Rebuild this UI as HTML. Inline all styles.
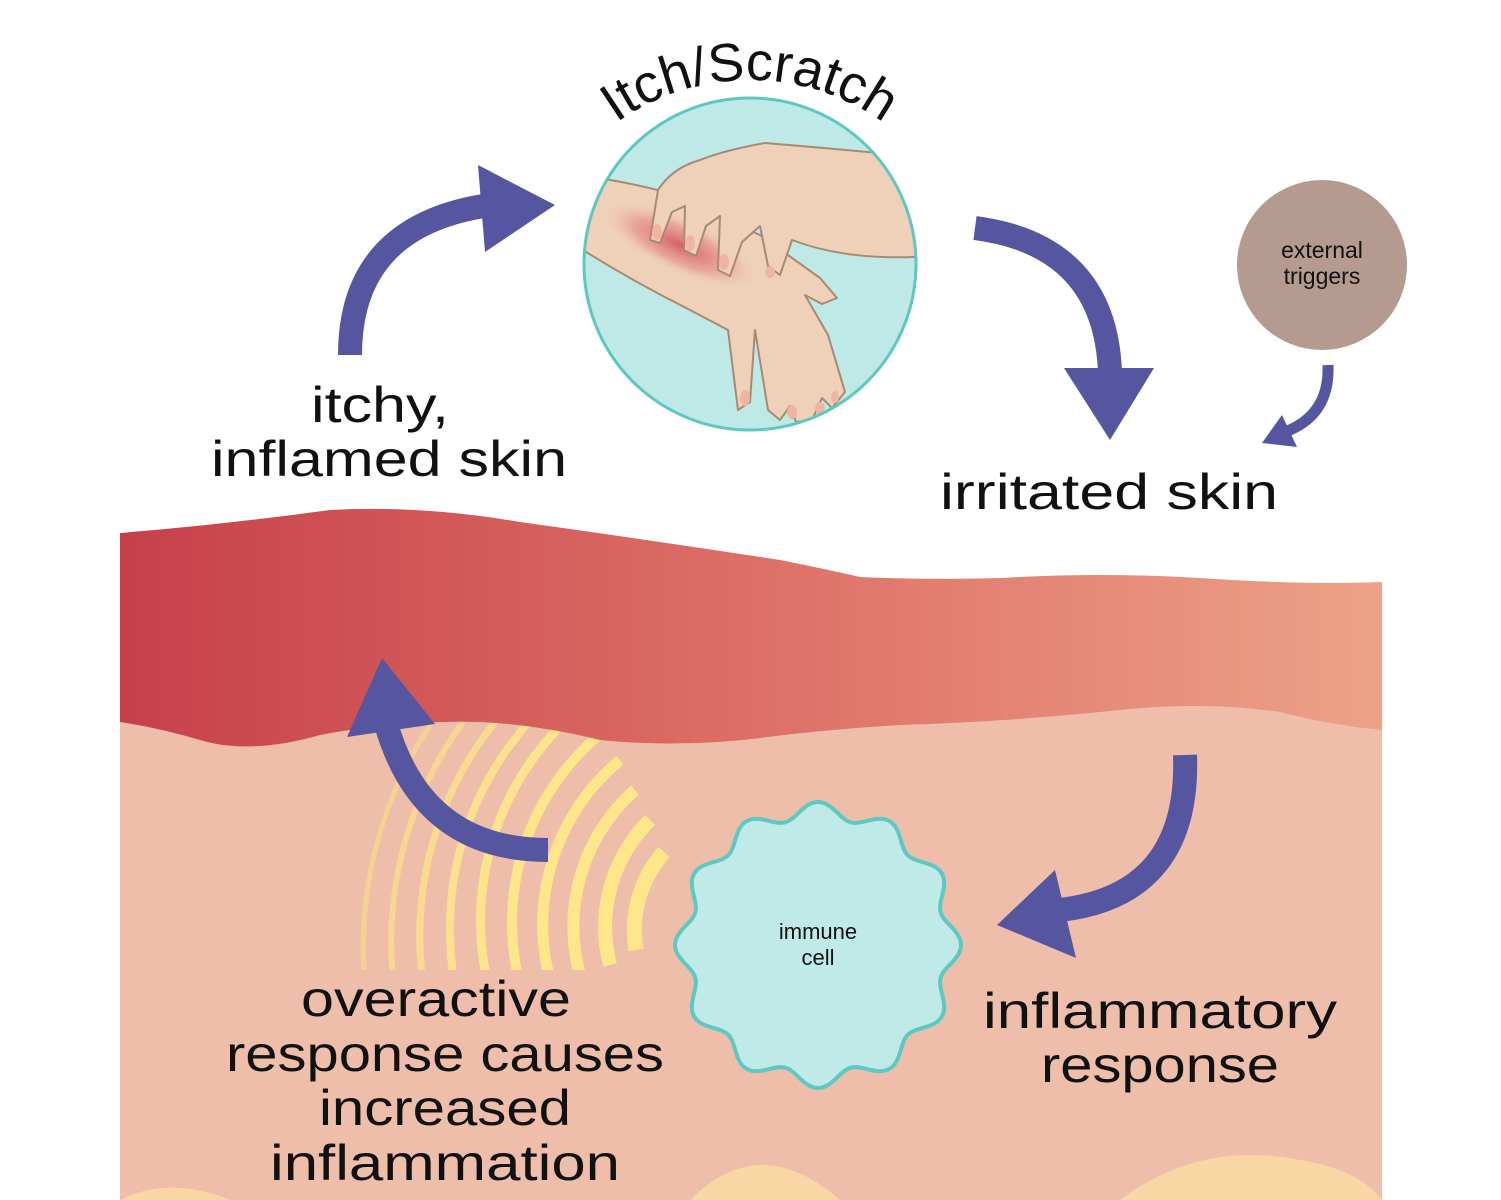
<!DOCTYPE html>
<html><head><meta charset="utf-8"><style>
html,body{margin:0;padding:0;background:#fff;}
svg{display:block;}
text{font-family:"Liberation Sans",sans-serif;fill:#111;}
</style></head><body>
<svg width="1501" height="1200" viewBox="0 0 1501 1200" xmlns="http://www.w3.org/2000/svg">
<defs>
<linearGradient id="red" x1="0" x2="1" y1="0" y2="0">
<stop offset="0" stop-color="#C6404B"/>
<stop offset="0.5" stop-color="#DD6F66"/>
<stop offset="1" stop-color="#EDA288"/>
</linearGradient>
<radialGradient id="glow">
<stop offset="0" stop-color="#D65A63" stop-opacity="0.95"/>
<stop offset="0.6" stop-color="#E07D80" stop-opacity="0.5"/>
<stop offset="1" stop-color="#EFD0B8" stop-opacity="0"/>
</radialGradient>
<clipPath id="arcclip"><rect x="340" y="700" width="400" height="270"/></clipPath>
<clipPath id="circ"><circle cx="750" cy="264" r="166"/></clipPath>
</defs>

<rect x="120" y="700" width="1262" height="500" fill="#EEBEAA"/>
<path d="M120,1200 Q170,1175 230,1200 Z" fill="#F8D7A5"/>
<path d="M690,1200 Q760,1130 840,1200 Z" fill="#F8D7A5"/>
<path d="M1120,1200 Q1200,1140 1300,1160 Q1360,1170 1382,1200 Z" fill="#F8D7A5"/>

<g clip-path="url(#arcclip)" fill="none">
<path d="M636,950 A118 118 0 0 1 664,852" stroke="#FDE78A" stroke-width="15"/>
<path d="M610,965 A150 150 0 0 1 650,820" stroke="#FDE78A" stroke-width="14"/>
<path d="M580,975 A182 182 0 0 1 635,790" stroke="#FDE78A" stroke-width="12"/>
<path d="M550,980 A214 214 0 0 1 620,760" stroke="#FDE78A" stroke-width="11"/>
<path d="M520,985 A246 246 0 0 1 605,730" stroke="#FDE78A" stroke-width="10"/>
<path d="M488,985 A278 278 0 0 1 590,700" stroke="#FCE48C" stroke-width="9"/>
<path d="M456,990 A310 310 0 0 1 575,680" stroke="#FBE08E" stroke-width="8"/>
<path d="M424,990 A342 342 0 0 1 560,660" stroke="#F9DB90" stroke-width="7"/>
<path d="M395,995 A374 374 0 0 1 545,640" stroke="#F7D692" stroke-width="6"/>
<path d="M366,995 A406 406 0 0 1 530,620" stroke="#F5D294" stroke-width="5"/>
</g>

<path d="M120,533 Q220,525 330,510 Q420,505 520,522 Q650,540 780,560 Q830,570 860,577 Q920,580 1000,578 Q1100,572 1200,578 Q1300,585 1382,582 L1382,730 Q1330,725 1280,712 Q1200,700 1100,712 Q1000,722 900,725 Q820,730 760,738 Q680,748 600,740 Q540,725 480,722 Q400,720 320,735 Q250,755 200,740 Q160,728 120,722 Z" fill="url(#red)"/>

<path id="cell" fill="#C0EAE7" stroke="#5EC8C2" stroke-width="4" d=""/>

<circle cx="750" cy="264" r="167" fill="#BFE9E6"/>
<g clip-path="url(#circ)" stroke="#A88A74" stroke-width="2" stroke-linejoin="round">
<path d="M575,175 Q620,180 665,192 L760,235 L820,278 L837,298 L822,304 L805,295 L828,335 L845,392 L832,408 L822,398 L812,420 L796,422 L790,406 L780,420 L768,410 L755,330 L750,402 L738,410 L728,330 L690,310 Q630,280 575,245 Z" fill="#EFD0B8"/>
<ellipse cx="680" cy="245" rx="85" ry="28" transform="rotate(25 680 245)" fill="url(#glow)" stroke="none"/>
<path d="M930,158 Q850,150 765,143 Q725,150 700,160 Q672,168 658,190 L650,240 L660,243 L672,212 L685,206 L684,250 L696,256 L706,226 L720,216 L718,270 L730,276 L742,242 L760,226 L768,266 L780,275 L792,240 Q850,262 930,256 Z" fill="#EFD0B8"/>
<g fill="#F0B5A2" stroke="none">
<ellipse cx="657" cy="232" rx="5" ry="8"/><ellipse cx="690" cy="243" rx="5" ry="8"/><ellipse cx="724" cy="262" rx="5" ry="8"/><ellipse cx="770" cy="272" rx="5" ry="6"/>
<ellipse cx="745" cy="398" rx="5" ry="8"/><ellipse cx="792" cy="412" rx="5" ry="7"/><ellipse cx="820" cy="408" rx="5" ry="6"/><ellipse cx="835" cy="397" rx="4" ry="6"/>
</g>
</g>
<circle cx="750" cy="264" r="166" fill="none" stroke="#5EC7C1" stroke-width="3"/>

<circle cx="1322" cy="265" r="85" fill="#B59A8F"/>
<text x="1322" y="258" font-size="23" text-anchor="middle">external</text>
<text x="1322" y="284" font-size="23" text-anchor="middle">triggers</text>

<g fill="none" stroke="#5656A0">
<path d="M350,355 Q350,225 490,205" stroke-width="24"/>
<path d="M975,228 Q1105,245 1110,372" stroke-width="24"/>
<path d="M1328,365 Q1330,415 1285,432" stroke-width="11"/>
<path d="M1185,755 Q1190,895 1060,910" stroke-width="24"/>
<path d="M548,850 Q420,850 385,720" stroke-width="24"/>
</g>
<g fill="#5656A0">
<polygon points="478,165 555,205 485,252"/>
<polygon points="1064,368 1154,368 1110,440"/>
<polygon points="1262,443 1282,415 1297,447"/>
<polygon points="1055,870 997,925 1076,958"/>
<polygon points="347,737 382,658 435,724"/>
</g>

<path id="arc" d="M520,310 A230 230 0 0 1 980,310" fill="none"/>
<text font-size="54"><textPath href="#arc" startOffset="50%" text-anchor="middle">Itch/Scratch</textPath></text>

<g font-size="50" text-anchor="middle">
<text x="380" y="422" textLength="138" lengthAdjust="spacingAndGlyphs">itchy,</text>
<text x="389" y="476" textLength="356" lengthAdjust="spacingAndGlyphs">inflamed skin</text>
<text x="1109" y="509" textLength="338" lengthAdjust="spacingAndGlyphs">irritated skin</text>
<text x="1160" y="1028" textLength="354" lengthAdjust="spacingAndGlyphs">inflammatory</text>
<text x="1160" y="1082" textLength="238" lengthAdjust="spacingAndGlyphs">response</text>
<text x="436" y="1016" textLength="270" lengthAdjust="spacingAndGlyphs">overactive</text>
<text x="445" y="1071" textLength="438" lengthAdjust="spacingAndGlyphs">response causes</text>
<text x="445" y="1125" textLength="252" lengthAdjust="spacingAndGlyphs">increased</text>
<text x="445" y="1180" textLength="350" lengthAdjust="spacingAndGlyphs">inflammation</text>
</g>
<text x="818" y="939" font-size="22" text-anchor="middle">immune</text>
<text x="818" y="965" font-size="22" text-anchor="middle">cell</text>

<script>
(function(){
var cx=818,cy=945,r=135,a=8,n=12,d="";
for(var i=0;i<=360;i++){var t=i*Math.PI/180;var rr=r+a*Math.cos(n*t);
var x=cx+rr*Math.cos(t),y=cy+rr*Math.sin(t);d+=(i?"L":"M")+x.toFixed(1)+","+y.toFixed(1);}
document.getElementById("cell").setAttribute("d",d+"Z");
})();
</script>
</svg>
</body></html>
